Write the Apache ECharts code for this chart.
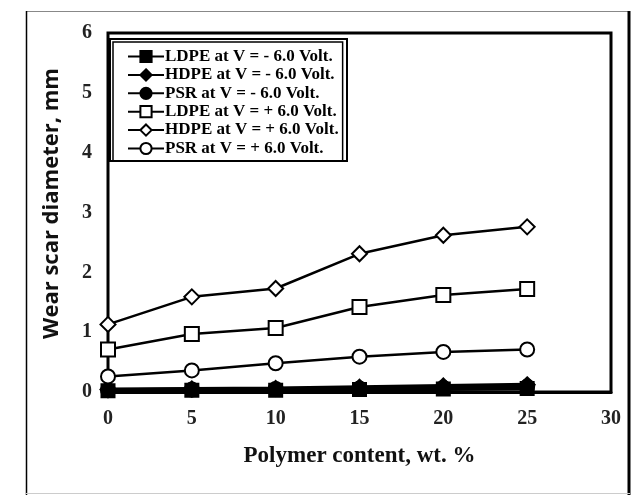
<!DOCTYPE html>
<html>
<head>
<meta charset="utf-8">
<script src="https://cdn.jsdelivr.net/npm/echarts@6/dist/echarts.min.js"></script>
<style>html,body{margin:0;padding:0;background:#fff}#c{width:633px;height:495px}</style>
</head>
<body>
<div id="c"></div>
<script>
const xValues = [0, 5, 10, 15, 20, 25];
const xTicks = [0, 5, 10, 15, 20, 25, 30];
const yTicks = [0, 1, 2, 3, 4, 5, 6];
const seriesNames = [
  'LDPE at V = - 6.0 Volt.',
  'HDPE at V = - 6.0 Volt.',
  'PSR at V = - 6.0 Volt.',
  'LDPE at V = + 6.0 Volt.',
  'HDPE at V = + 6.0 Volt.',
  'PSR at V = + 6.0 Volt.'
];
const ldpeNeg = [0.02, 0.03, 0.03, 0.04, 0.05, 0.06];
const hdpeNeg = [0.04, 0.05, 0.06, 0.08, 0.10, 0.12];
const psrNeg  = [0.03, 0.04, 0.05, 0.06, 0.07, 0.09];
const ldpePos = [0.71, 0.97, 1.07, 1.42, 1.62, 1.72];
const hdpePos = [1.13, 1.59, 1.73, 2.31, 2.62, 2.76];
const psrPos  = [0.26, 0.36, 0.48, 0.59, 0.67, 0.71];

const serif = "'Liberation Serif','Times New Roman',serif";
const pairs = (arr) => xValues.map((x, i) => [x, arr[i]]);

function mk(name, data, symbol, size, filled, lw) {
  return {
    name: name, type: 'line', data: pairs(data),
    symbol: symbol, symbolSize: size, showSymbol: true,
    lineStyle: {color: '#000', width: lw},
    itemStyle: {color: filled ? '#000' : '#fff', borderColor: '#000', borderWidth: 2},
    emphasis: {disabled: true}, z: filled ? 3 : 4
  };
}

const chart = echarts.init(document.getElementById('c'), null, {renderer: 'canvas'});
chart.setOption({
  animation: false,
  backgroundColor: '#fff',
  grid: {left: 108, right: 22, top: 33, bottom: 103, show: true, borderColor: '#000', borderWidth: 3, backgroundColor: 'transparent'},
  xAxis: {
    type: 'value', min: xTicks[0], max: xTicks[xTicks.length - 1], interval: 5,
    name: 'Polymer content, wt. %', nameLocation: 'middle', nameGap: 53,
    nameTextStyle: {fontFamily: serif, fontWeight: 'bold', fontSize: 23, color: '#111'},
    axisLine: {show: true, lineStyle: {color: '#000', width: 3}},
    axisTick: {show: false}, splitLine: {show: false},
    axisLabel: {fontFamily: serif, fontWeight: 'bold', fontSize: 20, color: '#222', margin: 17}
  },
  yAxis: {
    type: 'value', min: yTicks[0], max: yTicks[yTicks.length - 1], interval: 1,
    name: 'Wear scar diameter, mm', nameLocation: 'middle', nameGap: 45,
    nameTextStyle: {fontFamily: "'Open Sans','Liberation Sans',Arial,sans-serif", fontWeight: 'bold', fontSize: 22, color: '#111', padding: [0, 0, 0, 18]},
    axisLine: {show: true, lineStyle: {color: '#000', width: 2}},
    axisTick: {show: false}, splitLine: {show: false},
    axisLabel: {fontFamily: serif, fontWeight: 'bold', fontSize: 20, color: '#222', margin: 16}
  },
  legend: {
    orient: 'vertical', left: 113, top: 42,
    data: seriesNames,
    itemWidth: 36, itemHeight: 14, itemGap: 1.4,
    padding: [6, 4, 4, 14],
    borderColor: '#000', borderWidth: 1.5,
    backgroundColor: '#fff',
    textStyle: {fontFamily: serif, fontWeight: 'bold', fontSize: 17, color: '#000', padding: [0, 0, 0, -4]},
    selectedMode: false
  },
  graphic: [
    {type: 'rect', shape: {x: 110, y: 39, width: 237, height: 122}, style: {fill: 'none', stroke: '#000', lineWidth: 2}, z: 100},
    {type: 'line', shape: {x1: 26, y1: 11.5, x2: 630, y2: 11.5}, style: {stroke: '#888', lineWidth: 1}},
    {type: 'line', shape: {x1: 26.5, y1: 11, x2: 26.5, y2: 495}, style: {stroke: '#000', lineWidth: 1.5}},
    {type: 'line', shape: {x1: 629, y1: 11, x2: 629, y2: 495}, style: {stroke: '#000', lineWidth: 3}},
    {type: 'line', shape: {x1: 26, y1: 493.5, x2: 630, y2: 493.5}, style: {stroke: '#ccc', lineWidth: 1}}
  ],
  series: [
    mk(seriesNames[0], ldpeNeg, 'rect', 13, true, 4),
    mk(seriesNames[1], hdpeNeg, 'diamond', 15, true, 4),
    mk(seriesNames[2], psrNeg, 'circle', 14, true, 4),
    mk(seriesNames[3], ldpePos, 'rect', 14, false, 2.5),
    mk(seriesNames[4], hdpePos, 'diamond', 15, false, 2.5),
    mk(seriesNames[5], psrPos, 'circle', 14, false, 2.5)
  ]
});
</script>
</body>
</html>
